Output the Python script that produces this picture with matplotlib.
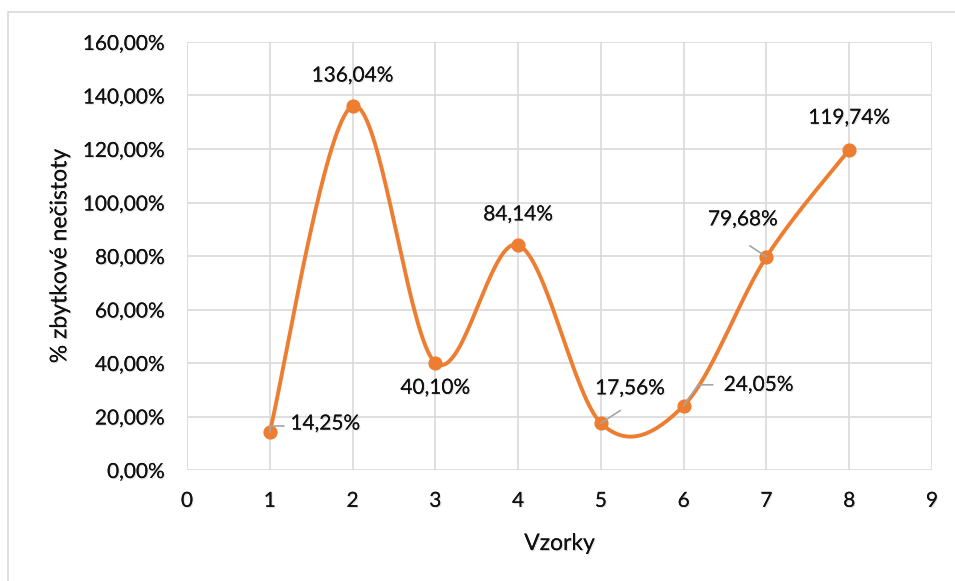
import matplotlib.pyplot as plt
import matplotlib.patheffects as pe
import numpy as np

plt.rcParams['font.family'] = ['Lato', 'DejaVu Sans']

samples = [1, 2, 3, 4, 5, 6, 7, 8]
residue = [14.25, 136.04, 40.10, 84.14, 17.56, 24.05, 79.68, 119.74]
y_ticks = [0, 20, 40, 60, 80, 100, 120, 140, 160]
x_ticks = list(range(0, 10))

# label offsets in points
label_offsets = [(40, 6), (0, 22), (0, -18), (0, 22), (21, 25), (54, 15), (-17, 27), (0, 23)]

orange = '#ED7D31'
grid = '#D9D9D9'
leader = '#A6A6A6'


def smooth_curve(x, y, steps=40):
    # Catmull-Rom style bezier, like spreadsheet "smoothed line"
    px = np.concatenate([[x[0]], x, [x[-1]]])
    py = np.concatenate([[y[0]], y, [y[-1]]])
    xs, ys = [], []
    t = np.linspace(0, 1, steps)
    for i in range(1, len(px) - 2):
        p0 = np.array([px[i], py[i]])
        p3 = np.array([px[i + 1], py[i + 1]])
        p1 = p0 + (p3 - np.array([px[i - 1], py[i - 1]])) / 6
        p2 = p3 - (np.array([px[i + 2], py[i + 2]]) - p0) / 6
        pts = (np.outer((1 - t) ** 3, p0) + np.outer(3 * (1 - t) ** 2 * t, p1)
               + np.outer(3 * (1 - t) * t ** 2, p2) + np.outer(t ** 3, p3))
        xs.extend(pts[:, 0])
        ys.extend(pts[:, 1])
    return np.array(xs), np.array(ys)


def fmt_pct(v):
    return '{0:.2f}%'.format(v).replace('.', ',')


def leader_line(x, y, end, style=None):
    props = dict(arrowstyle='-', color=leader, lw=1.2, shrinkA=0, shrinkB=0)
    if style:
        props['connectionstyle'] = style
    ax.annotate('', (x, y), xytext=end, textcoords='offset points',
                arrowprops=props, zorder=5)


fig = plt.figure(figsize=(9.55, 5.81), dpi=100)
ax = fig.add_axes([187 / 955, 1 - 470 / 581, (932 - 187) / 955, (470 - 42) / 581])

# outer chart border
fig.patches.append(plt.Rectangle((8 / 955, -0.1), 1.2, 1 - 12 / 581 + 0.1,
                                 transform=fig.transFigure, fill=False,
                                 edgecolor=grid, linewidth=1.2))

shadow = [pe.withSimplePatchShadow(offset=(0.8, -0.8), shadow_rgbFace='gray', alpha=0.25), pe.Normal()]

sx, sy = smooth_curve(np.array(samples, float), np.array(residue, float))
ax.plot(sx, sy, color=orange, linewidth=2.8, zorder=3, solid_capstyle='round')
ax.scatter(samples, residue, s=85, color=orange, zorder=4)

for x, y, off in zip(samples, residue, label_offsets):
    ax.annotate(fmt_pct(y), (x, y), xytext=off, textcoords='offset points',
                ha='center', va='center', fontsize=15, color='#111111',
                path_effects=shadow, zorder=5)

# leader lines for the labels pushed away from their points
leader_line(samples[0], residue[0], (10, 4), 'angle,angleA=0,angleB=90,rad=0')
leader_line(samples[4], residue[4], (14, 9))
leader_line(samples[5], residue[5], (21, 15), 'angle,angleA=0,angleB=55,rad=0')
leader_line(samples[6], residue[6], (-12, 8))

ax.set_xlim(0, 9)
ax.set_ylim(0, 160)
ax.set_xticks(x_ticks)
ax.set_yticks(y_ticks)
ax.set_yticklabels([fmt_pct(v) for v in y_ticks])
ax.grid(True, color=grid, linewidth=1.2)
ax.set_axisbelow(True)
for s in ax.spines.values():
    s.set_visible(False)
ax.tick_params(length=0, labelsize=15, labelcolor='#111111')
ax.tick_params(axis='x', pad=15)
ax.tick_params(axis='y', pad=16)
for lab in ax.get_xticklabels() + ax.get_yticklabels():
    lab.set_path_effects(shadow)

ax.set_xlabel('Vzorky', fontsize=16.5, color='#111111', labelpad=16, path_effects=shadow)
ax.set_ylabel('% zbytkové nečistoty', fontsize=16.5, color='#111111', labelpad=9, path_effects=shadow)

plt.savefig('out.png', dpi=100)
